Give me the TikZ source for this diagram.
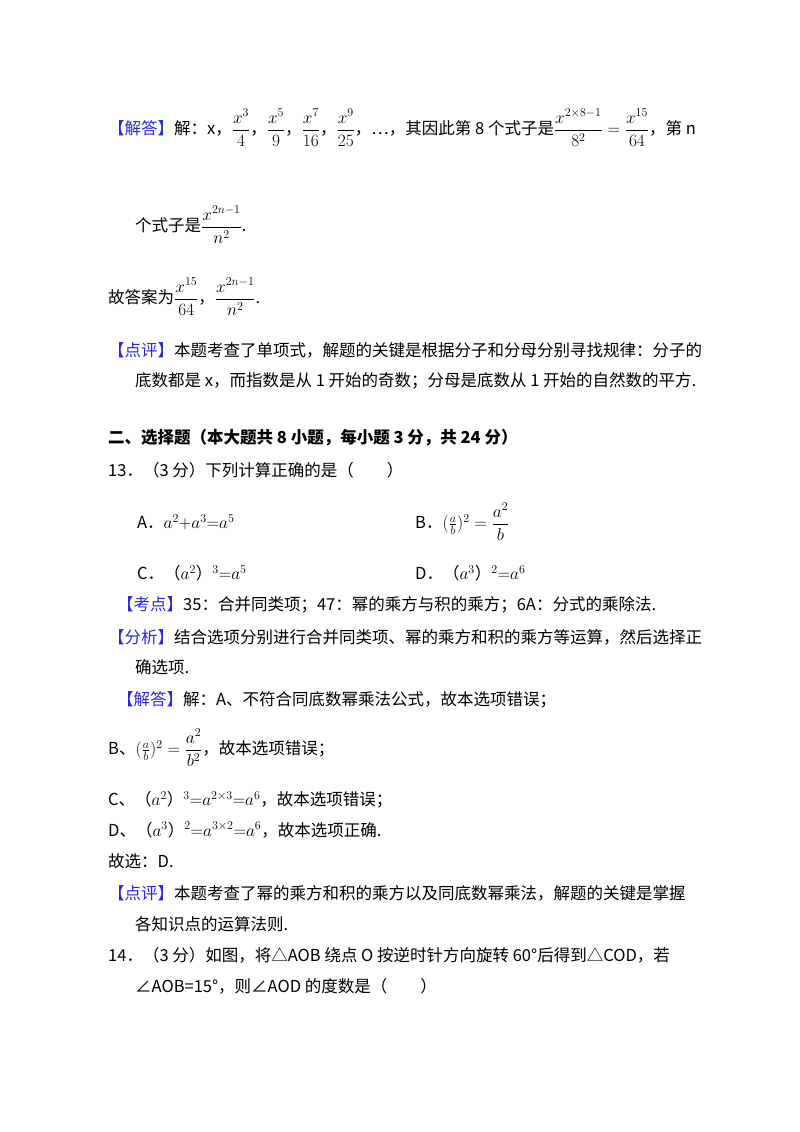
\documentclass[tikz,border=0pt]{standalone}
\usepackage{amsmath}
\usepackage{fontspec}
\setmainfont{Liberation Serif}
\newfontfamily\cjk{Noto Sans CJK SC}
\definecolor{lblue}{RGB}{40,40,220}
\newcommand{\tg}[1]{{\color{lblue}【#1】}}
\begin{document}
\begin{tikzpicture}[x=1pt,y=-1pt,
  t/.style={anchor=west,inner sep=0pt,font=\fontsize{16.5}{19}\selectfont\cjk}]
\useasboundingbox (0,0) rectangle (800,1132);
\node[t] (l1) at (108,128) {\tg{解答}解：x，$\dfrac{x^3}{4}$，$\dfrac{x^5}{9}$，$\dfrac{x^7}{16}$，$\dfrac{x^9}{25}$，…，其因此第 8 个式子是$\dfrac{x^{2\times8-1}}{8^2}=\dfrac{x^{15}}{64}$，第 n};
\node[t] (l2) at (135,225) {个式子是$\dfrac{x^{2n-1}}{n^2}$.};
\node[t] (l3) at (108,297) {故答案为$\dfrac{x^{15}}{64}$，$\dfrac{x^{2n-1}}{n^2}$.};
\node[t] (l4) at (108,350) {\tg{点评}本题考查了单项式，解题的关键是根据分子和分母分别寻找规律：分子的};
\node[t] (l5) at (135,381) {底数都是 x，而指数是从 1 开始的奇数；分母是底数从 1 开始的自然数的平方.};
\node[t,font=\fontsize{16.5}{19}\selectfont\cjk\bfseries] (l6) at (108,438) {二、选择题（本大题共 8 小题，每小题 3 分，共 24 分）};
\node[t] (l7) at (108,470) {13．（3 分）下列计算正确的是（\quad\quad）};
\node[t] (a) at (137,522) {A．$a^2{+}a^3{=}a^5$};
\node[t] (b) at (415,522) {B．$(\frac{a}{b})^2=\dfrac{a^2}{b}$};
\node[t] (c) at (137,573) {C．（$a^2$）$^3{=}a^5$};
\node[t] (d) at (415,573) {D．（$a^3$）$^2{=}a^6$};
\node[t] (l8) at (117,605) {\tg{考点}35：合并同类项；47：幂的乘方与积的乘方；6A：分式的乘除法.};
\node[t] (l9) at (108,637) {\tg{分析}结合选项分别进行合并同类项、幂的乘方和积的乘方等运算，然后选择正};
\node[t] (l10) at (135,667) {确选项.};
\node[t] (l11) at (117,700) {\tg{解答}解：A、不符合同底数幂乘法公式，故本选项错误；};
\node[t] (l12) at (108,748) {B、$(\frac{a}{b})^2=\dfrac{a^2}{b^2}$，故本选项错误；};
\node[t] (l13) at (108,800) {C、（$a^2$）$^3{=}a^{2\times3}{=}a^6$，故本选项错误；};
\node[t] (l14) at (108,830) {D、（$a^3$）$^2{=}a^{3\times2}{=}a^6$，故本选项正确.};
\node[t] (l15) at (108,861) {故选：D.};
\node[t] (l16) at (108,893) {\tg{点评}本题考查了幂的乘方和积的乘方以及同底数幂乘法，解题的关键是掌握};
\node[t] (l17) at (135,924) {各知识点的运算法则.};
\node[t] (l18) at (108,955) {14．（3 分）如图，将△AOB 绕点 O 按逆时针方向旋转 60°后得到△COD，若};
\node[t] (l19) at (135,986) {∠AOB=15°，则∠AOD 的度数是（\quad\quad）};
\end{tikzpicture}
\end{document}
